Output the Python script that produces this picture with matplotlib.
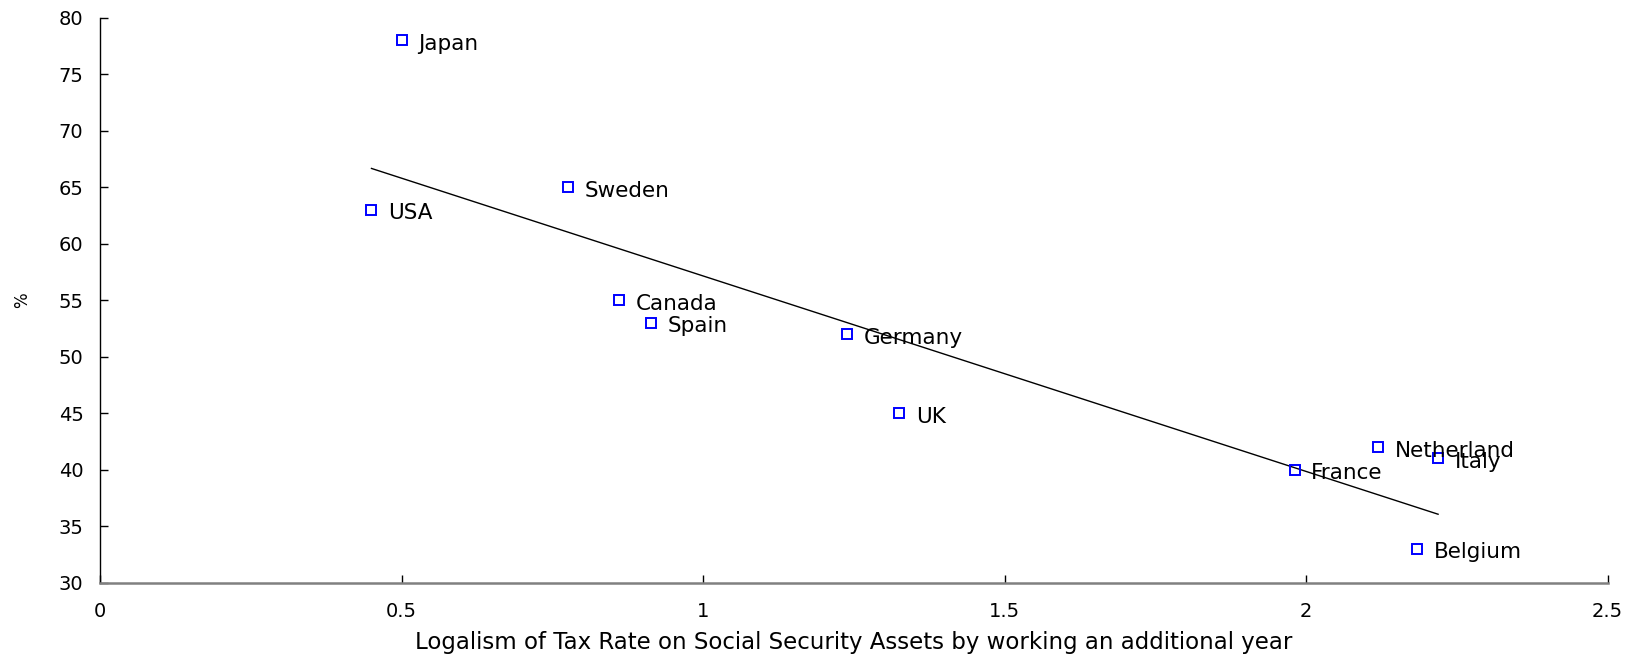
import numpy as np
import matplotlib.pyplot as plt

plt.rcParams['font.family'] = ['DejaVu Sans']

countries = ['Japan', 'Sweden', 'USA', 'Canada', 'Spain', 'Germany', 'UK',
             'France', 'Netherland', 'Italy', 'Belgium']
tax_log = [0.50, 0.776, 0.45, 0.861, 0.913, 1.238, 1.325, 1.981, 2.12, 2.219, 2.184]
pct = [78, 65, 63, 55, 53, 52, 45, 40, 42, 41, 33]

fig, ax = plt.subplots(figsize=(16.42, 6.6), dpi=100)
fig.subplots_adjust(left=0.061, right=0.979, top=0.973, bottom=0.117)

ax.plot(tax_log, pct, 's', ms=7, mfc='none', mec='blue', mew=1.4, zorder=3)

# trend line
k, d = np.polyfit(tax_log, pct, 1)
xl = np.array([min(tax_log), max(tax_log)])
ax.plot(xl, k*xl + d, color='black', lw=1)

for name, x, y in zip(countries, tax_log, pct):
    ax.annotate(name, (x, y), xytext=(12, -2.5), textcoords='offset points',
                va='center', ha='left', fontsize=15.5)

ax.set_xlim(0, 2.5)
ax.set_ylim(30, 80)
ax.set_xticks([0, 0.5, 1, 1.5, 2, 2.5])
ax.set_xticklabels(['0', '0.5', '1', '1.5', '2', '2.5'])
ax.set_yticks(range(30, 81, 5))
ax.tick_params(direction='in', length=6, labelsize=14, width=1)
ax.tick_params(axis='x', pad=14)
ax.tick_params(axis='y', pad=12)

ax.spines['top'].set_visible(False)
ax.spines['right'].set_visible(False)
ax.spines['bottom'].set_color('#808080')
ax.spines['bottom'].set_linewidth(1.8)
ax.spines['left'].set_linewidth(1)

ax.set_xlabel('Logalism of Tax Rate on Social Security Assets by working an additional year',
              fontsize=16.5, labelpad=7)
ax.set_ylabel('%', fontsize=12, labelpad=20)

plt.savefig('out.png')
